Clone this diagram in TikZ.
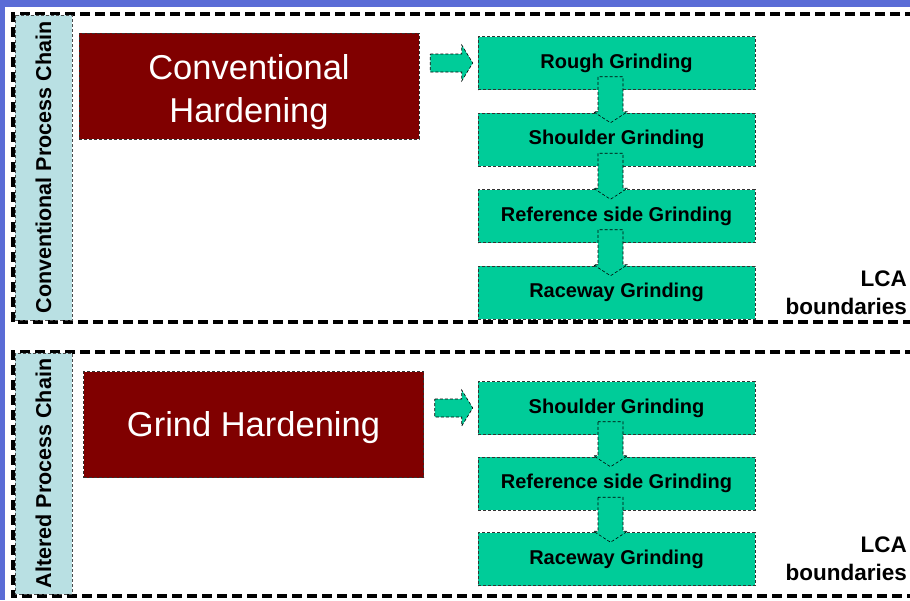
\documentclass[tikz,border=0pt]{standalone}
\usepackage{fontspec}
\setmainfont{Liberation Sans}
\usepackage{xcolor}
\usetikzlibrary{positioning,calc}

\definecolor{slideblue}{HTML}{5A6CD6}
\definecolor{hardred}{HTML}{800000}
\definecolor{stepgreen}{HTML}{00CC99}
\definecolor{chaincyan}{HTML}{B9E0E3}

% block arrows between named boxes
\newcommand\rightblock[2]{%
  \draw[blk] ($(#1.east |- #2.west)+(11,-9)$) -- ($(#2.west)+(-16,-9)$) -- ($(#2.west)+(-16,-18)$)
    -- ($(#2.west)+(-5,0)$) -- ($(#2.west)+(-16,18)$) -- ($(#2.west)+(-16,9)$)
    -- ($(#1.east |- #2.west)+(11,9)$) -- cycle;}
\newcommand\downblock[2]{%
  \draw[blk] ($(#1.south)+(-18.5,-13)$) -- ($(#2.north)+(-18.5,-1)$) -- ($(#2.north)+(-23,-1)$)
    -- ($(#2.north)+(-6,10)$) -- ($(#2.north)+(11,-1)$) -- ($(#2.north)+(6.5,-1)$)
    -- ($(#1.south)+(6.5,-13)$) -- cycle;}
% lower the ink of a text without changing its box
\newcommand\lowertext[2]{\raisebox{-#1}[\height][\depth]{#2}}

\begin{document}
\begin{tikzpicture}[
  x=1pt,y=-1pt,
  frame/.style={line width=3.5pt,dash pattern=on 10pt off 5pt},
  chain/.style={draw=black!70,densely dashed,line width=.5pt,fill=chaincyan,minimum width=57pt,
    rotate=90,font=\bfseries\fontsize{21.5}{24}\selectfont},
  hard/.style={draw=black!80,densely dashed,line width=.5pt,fill=hardred,text=white,align=center,
    minimum width=340pt,minimum height=106pt,font=\fontsize{34.5}{43}\selectfont},
  gbox/.style={draw=black!80,densely dashed,line width=.5pt,fill=stepgreen,minimum width=277pt,
    minimum height=53pt,font=\bfseries\fontsize{20}{22}\selectfont},
  blk/.style={draw=black,densely dashed,line width=.6pt,fill=stepgreen},
  lca/.style={align=right,anchor=north east,inner sep=0pt,font=\bfseries\fontsize{22.5}{28}\selectfont}
]
\useasboundingbox (0,0) rectangle (910,600);
\fill[slideblue] (0,0) rectangle (910,600);
\fill[white] (5,7) rectangle (910,600);

% conventional chain
\draw[frame] (930,14) -| (13,322) -- (930,322);
\node[chain,minimum width=305pt,minimum height=57pt] (conv) at (43.5,167.5) {Conventional Process Chain};
\node[hard] (convhard) at (249,86) {\lowertext{6pt}{\begin{tabular}{@{}c@{}}Conventional\\Hardening\end{tabular}}};
\node[gbox] (rough) at (616.5,63) {Rough Grinding};
\node[gbox,below=23pt of rough] (shoulder) {Shoulder Grinding};
\node[gbox,below=23pt of shoulder] (refside) {Reference side Grinding};
\node[gbox,below=23pt of refside] (raceway) {Raceway Grinding};
\rightblock{convhard}{rough}
\downblock{rough}{shoulder}
\downblock{shoulder}{refside}
\downblock{refside}{raceway}
\node[lca] (lcatop) at (907,271) {LCA\\boundaries};

% altered chain
\draw[frame] (930,352) -| (13,596) -- (930,596);
\node[chain,minimum width=241pt,minimum height=57pt] (alt) at (43.5,473.5) {Altered Process Chain};
\node[hard] (grindhard) at (253.5,424.5) {\lowertext{3pt}{Grind Hardening}};
\node[gbox] (shoulder2) at (616.5,408) {Shoulder Grinding};
\node[gbox,below=22pt of shoulder2] (refside2) {Reference side Grinding};
\node[gbox,below=22pt of refside2] (raceway2) {Raceway Grinding};
\rightblock{grindhard}{shoulder2}
\downblock{shoulder2}{refside2}
\downblock{refside2}{raceway2}
\node[lca] (lcabot) at (907,537) {LCA\\boundaries};
\end{tikzpicture}
\end{document}
